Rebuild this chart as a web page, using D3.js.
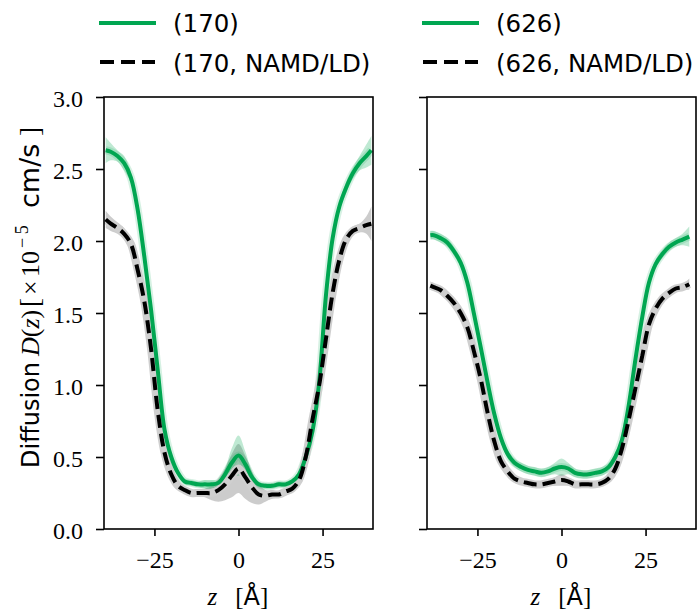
<!DOCTYPE html>
<html>
<head>
<meta charset="utf-8">
<script src="https://cdn.jsdelivr.net/npm/d3@7"></script>
<style>
  body { margin: 0; background: #fff; }
  svg { display: block; }
</style>
</head>
<body>
<svg id="chart"></svg>
<script>
// z positions (Angstrom) for each panel
const zLeft = [-39.5, -38, -36, -34, -32, -30, -28, -26, -24, -22, -20, -18, -16, -14, -12, -10, -8, -6, -4, -2, 0,
  2, 4, 6, 8, 10, 12, 14, 16, 18, 20, 22, 24, 26, 28, 30, 32, 34, 36, 38, 39.5]
const zRight = [-39, -38, -36, -34, -32, -30, -28, -26, -24, -22, -20, -18, -16, -14, -12, -10, -8, -6, -4, -2, 0,
  2, 4, 6, 8, 10, 12, 14, 16, 18, 20, 22, 24, 26, 28, 30, 32, 34, 36, 38]

// D(z) in 1e-5 cm/s, with half-width of the shaded band
const d170 = [2.63, 2.62, 2.59, 2.54, 2.44, 2.22, 1.89, 1.52, 1.10, 0.69, 0.50, 0.39, 0.33, 0.32, 0.31, 0.31, 0.31, 0.32, 0.38, 0.46, 0.51,
  0.45, 0.36, 0.31, 0.30, 0.30, 0.31, 0.31, 0.33, 0.38, 0.50, 0.68, 1.02, 1.62, 2.02, 2.24, 2.37, 2.47, 2.54, 2.59, 2.63]
const d170Band = [0.09, 0.06, 0.04, 0.05, 0.04, 0.03, 0.03, 0.02, 0.02, 0.02, 0.02, 0.02, 0.02, 0.02, 0.02, 0.03, 0.03, 0.02, 0.04, 0.10, 0.14,
  0.09, 0.04, 0.02, 0.02, 0.02, 0.02, 0.02, 0.02, 0.02, 0.02, 0.02, 0.02, 0.02, 0.03, 0.03, 0.04, 0.04, 0.05, 0.08, 0.10]
const d170ld = [2.15, 2.12, 2.09, 2.05, 1.98, 1.80, 1.58, 1.25, 0.82, 0.53, 0.38, 0.30, 0.27, 0.25, 0.25, 0.25, 0.25, 0.27, 0.31, 0.37, 0.42,
  0.36, 0.29, 0.24, 0.23, 0.24, 0.24, 0.26, 0.28, 0.34, 0.50, 0.76, 1.00, 1.32, 1.64, 1.87, 2.01, 2.07, 2.09, 2.11, 2.12]
const d170ldBand = [0.06, 0.05, 0.04, 0.04, 0.03, 0.03, 0.02, 0.02, 0.02, 0.02, 0.02, 0.02, 0.02, 0.02, 0.02, 0.03, 0.05, 0.08, 0.11, 0.15, 0.17,
  0.15, 0.11, 0.07, 0.04, 0.03, 0.02, 0.02, 0.02, 0.02, 0.02, 0.02, 0.02, 0.02, 0.02, 0.03, 0.03, 0.03, 0.03, 0.06, 0.12]

const d626 = [2.04, 2.04, 2.02, 1.99, 1.93, 1.85, 1.71, 1.49, 1.26, 1.02, 0.80, 0.63, 0.52, 0.46, 0.43, 0.41, 0.40, 0.39, 0.40, 0.42, 0.43,
  0.42, 0.39, 0.38, 0.38, 0.39, 0.40, 0.43, 0.50, 0.62, 0.86, 1.18, 1.47, 1.71, 1.84, 1.91, 1.96, 1.99, 2.01, 2.03]
const d626Band = [0.03, 0.03, 0.03, 0.03, 0.03, 0.03, 0.03, 0.03, 0.03, 0.03, 0.03, 0.03, 0.03, 0.03, 0.03, 0.03, 0.03, 0.03, 0.03, 0.04, 0.06,
  0.04, 0.03, 0.03, 0.03, 0.03, 0.03, 0.03, 0.03, 0.03, 0.03, 0.03, 0.03, 0.03, 0.03, 0.03, 0.03, 0.03, 0.04, 0.07]
const d626ld = [1.69, 1.68, 1.66, 1.62, 1.57, 1.50, 1.40, 1.23, 1.04, 0.81, 0.61, 0.47, 0.40, 0.35, 0.33, 0.32, 0.31, 0.31, 0.32, 0.33, 0.34,
  0.33, 0.31, 0.31, 0.31, 0.31, 0.32, 0.35, 0.42, 0.56, 0.76, 0.98, 1.20, 1.42, 1.53, 1.60, 1.64, 1.67, 1.68, 1.70]
const d626ldBand = [0.03, 0.02, 0.02, 0.02, 0.02, 0.02, 0.02, 0.02, 0.02, 0.02, 0.02, 0.02, 0.02, 0.02, 0.02, 0.02, 0.02, 0.02, 0.02, 0.03, 0.04,
  0.03, 0.02, 0.02, 0.02, 0.02, 0.02, 0.02, 0.02, 0.02, 0.02, 0.02, 0.02, 0.02, 0.02, 0.02, 0.02, 0.02, 0.02, 0.04]

const yTicks = [0, 0.5, 1.0, 1.5, 2.0, 2.5, 3.0]
const xTicks = [-25, 0, 25]
const legendLeft = ['(170)', '(170, NAMD/LD)']
const legendRight = ['(626)', '(626, NAMD/LD)']

const W = 698, H = 611
const plotTop = 97, plotBottom = 529, plotW = 269
const green = '#00a651'
const sans = 'DejaVu Sans'
const serif = 'Liberation Serif'

const svg = d3.select('#chart').attr('width', W).attr('height', H)

const y = d3.scaleLinear().domain([0, 3]).range([plotBottom, plotTop])

const panels = [
  { x0: 104, z: zLeft, a: d170, aBand: d170Band, b: d170ld, bBand: d170ldBand, legend: legendLeft, labels: true },
  { x0: 427, z: zRight, a: d626, aBand: d626Band, b: d626ld, bBand: d626ldBand, legend: legendRight, labels: false }
]

const fmtX = (d) => (d < 0 ? '\u2212' + Math.abs(d) : String(d))

panels.forEach((p, pi) => {
  const x = d3.scaleLinear().domain([-40, 40]).range([p.x0, p.x0 + plotW])
  const curve = d3.curveCatmullRom.alpha(0.5)

  const line = d3.line().x((d) => x(d[0])).y((d) => y(d[1])).curve(curve)
  const area = d3.area().x((d) => x(d[0])).y0((d) => y(d[1] - d[2])).y1((d) => y(d[1] + d[2])).curve(curve)

  const ptsA = p.z.map((z, i) => [z, p.a[i], p.aBand[i]])
  const ptsB = p.z.map((z, i) => [z, p.b[i], p.bBand[i]])

  svg.append('clipPath').attr('id', 'clip' + pi)
    .append('rect').attr('x', p.x0).attr('y', plotTop).attr('width', plotW).attr('height', plotBottom - plotTop)

  const g = svg.append('g').attr('clip-path', `url(#clip${pi})`)

  // shaded bands
  g.append('path').attr('d', area(ptsB)).attr('fill', 'rgba(110,110,110,0.35)')
  g.append('path').attr('d', area(ptsA)).attr('fill', 'rgba(0,166,81,0.25)')

  // soft halos under lines
  g.append('path').attr('d', line(ptsA)).attr('fill', 'none')
    .attr('stroke', 'rgba(0,166,81,0.16)').attr('stroke-width', 8)
  g.append('path').attr('d', line(ptsB)).attr('fill', 'none')
    .attr('stroke', '#cfcfcf').attr('stroke-width', 8).attr('stroke-linejoin', 'round')

  g.append('path').attr('d', line(ptsA)).attr('fill', 'none')
    .attr('stroke', green).attr('stroke-width', 4)
  g.append('path').attr('d', line(ptsB)).attr('fill', 'none')
    .attr('stroke', '#000').attr('stroke-width', 4).attr('stroke-dasharray', '13,6')

  // axes
  const yAxis = d3.axisLeft(y).tickValues(yTicks).tickSize(8)
    .tickFormat(p.labels ? d3.format('.1f') : '')
  const ya = svg.append('g').attr('transform', `translate(${p.x0},0)`).call(yAxis)
  ya.select('.domain').remove()
  ya.selectAll('line').attr('stroke-width', 1.6)
  ya.selectAll('text').attr('font-family', serif).attr('font-size', 24).attr('fill', '#000')
    .attr('x', -21).attr('dy', '0.4em')

  const xAxis = d3.axisBottom(x).tickValues(xTicks).tickSize(7).tickFormat(fmtX)
  const xa = svg.append('g').attr('transform', `translate(0,${plotBottom})`).call(xAxis)
  xa.select('.domain').remove()
  xa.selectAll('line').attr('stroke-width', 1.6)
  xa.selectAll('text').attr('font-family', serif).attr('font-size', 24).attr('fill', '#000')
    .attr('y', 39).attr('dy', 0)

  svg.append('rect').attr('x', p.x0).attr('y', plotTop).attr('width', plotW).attr('height', plotBottom - plotTop)
    .attr('fill', 'none').attr('stroke', '#000').attr('stroke-width', 1.6)

  // x label
  const xl = svg.append('text').attr('x', x(0) - 31).attr('y', 605).attr('font-size', 25)
  xl.append('tspan').attr('font-family', serif).attr('font-style', 'italic').text('z')
  xl.append('tspan').attr('font-family', serif).attr('dx', 18).text('[')
  xl.append('tspan').attr('font-family', sans).attr('font-size', 24).text('\u00c5')
  xl.append('tspan').attr('font-family', serif).text(']')

  // legend
  const lx = p.x0 - 5
  const lg = svg.append('g')
  lg.append('line').attr('x1', lx).attr('x2', lx + 57).attr('y1', 23).attr('y2', 23)
    .attr('stroke', green).attr('stroke-width', 4)
  lg.append('line').attr('x1', lx + 1).attr('x2', lx + 56).attr('y1', 62).attr('y2', 62)
    .attr('stroke', '#000').attr('stroke-width', 4).attr('stroke-dasharray', '14,7')
  lg.selectAll('text').data(p.legend).join('text')
    .attr('x', lx + 74).attr('y', (d, i) => 32 + i * 40)
    .attr('font-family', sans).attr('font-size', 24.5).attr('fill', '#000')
    .text((d) => d)
})

// y label, pieces placed along the rotated baseline
const yl = svg.append('text').attr('transform', 'translate(39,468) rotate(-90)').attr('font-size', 24)
yl.append('tspan').attr('x', 0).attr('font-family', sans).text('Diffusion')
yl.append('tspan').attr('x', 112).attr('font-family', serif).attr('font-style', 'italic').attr('font-size', 26).text('D')
yl.append('tspan').attr('font-family', serif).attr('font-size', 26).text('(')
yl.append('tspan').attr('font-family', serif).attr('font-style', 'italic').attr('font-size', 26).text('z')
yl.append('tspan').attr('font-family', serif).attr('font-size', 26).text(')')
yl.append('tspan').attr('x', 161).attr('font-family', serif).attr('font-size', 27).text('[')
yl.append('tspan').attr('x', 173).attr('font-family', serif).attr('font-size', 26).text('\u00d7')
yl.append('tspan').attr('x', 191).attr('font-family', serif).attr('font-size', 26).text('10')
yl.append('tspan').attr('x', 220).attr('font-family', serif).attr('font-size', 18).attr('dy', -11).text('\u2212\u20095')
yl.append('tspan').attr('x', 260).attr('font-family', sans).attr('font-size', 27).attr('dy', 11).text('cm/s')
yl.append('tspan').attr('x', 332).attr('font-family', serif).attr('font-size', 27).text(']')
</script>
</body>
</html>
